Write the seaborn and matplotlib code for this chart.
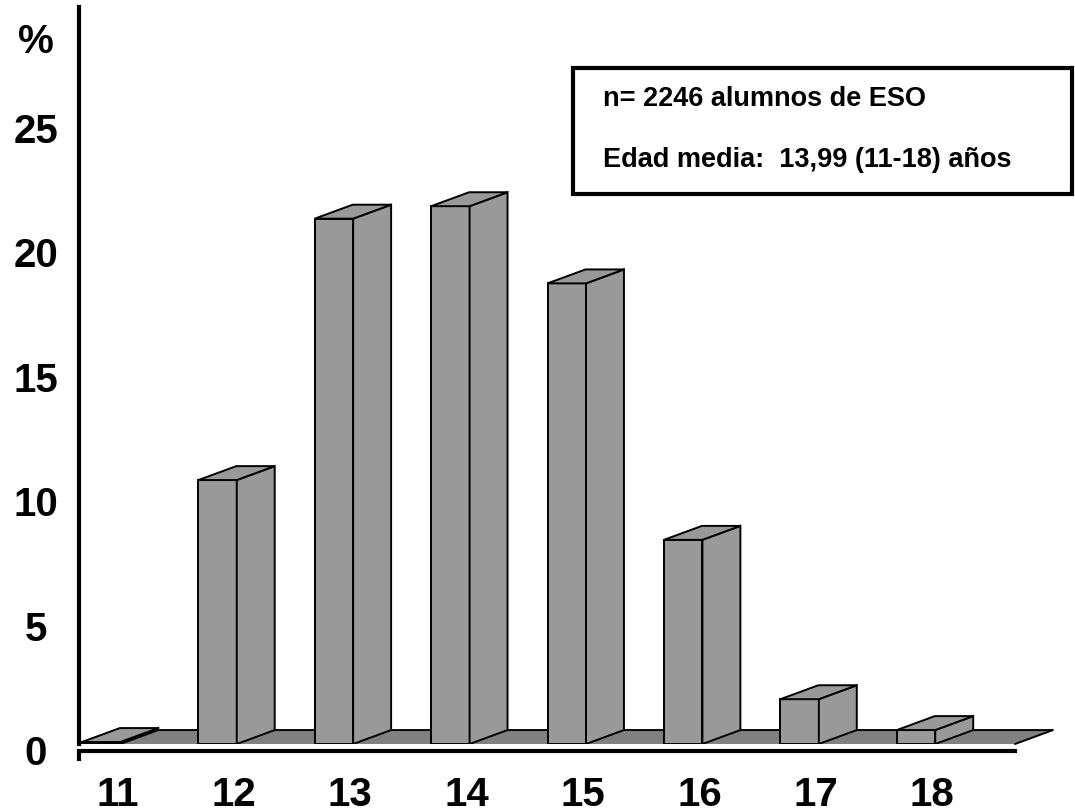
import numpy as np
import pandas as pd
import seaborn as sns
import matplotlib.pyplot as plt
from matplotlib.patches import Polygon, Rectangle
from matplotlib.transforms import ScaledTranslation

# % de alumnos por edad
edades = ['11', '12', '13', '14', '15', '16', '17', '18']
porcentaje = [0.08, 10.6, 21.1, 21.6, 18.5, 8.2, 1.8, 0.56]
yticks = [0, 5, 10, 15, 20, 25]
info = ['n= 2246 alumnos de ESO', 'Edad media:  13,99 (11-18) años']

df = pd.DataFrame({'edad': edades, 'pct': porcentaje})

sns.set_style('white')
plt.rcParams['font.family'] = ['Liberation Sans', 'DejaVu Sans']
plt.rcParams['font.weight'] = 'bold'
for k in ['text.color', 'xtick.color', 'ytick.color', 'axes.labelcolor', 'axes.edgecolor']:
    plt.rcParams[k] = 'black'

gray = '#999999'
floor_gray = '#808080'
dx, dy = 0.326, 0.56  # depth of the 3d effect (data units)
elw = 1.4

fig = plt.figure(figsize=(10.75, 8.12), dpi=100)
ax = fig.add_axes([79 / 1075, 67 / 812, 936 / 1075, 737 / 812])

sns.barplot(data=df, x='edad', y='pct', color=gray, saturation=1, width=0.33,
            edgecolor='black', linewidth=elw, ax=ax, zorder=3)

ax.set_xlim(-0.19, 7.85)
ax.set_ylim(0, 29.6)

# side and top faces of each bar
for p in list(ax.patches):
    x0, w, h = p.get_x(), p.get_width(), p.get_height()
    x1 = x0 + w
    side = Polygon([(x1, 0), (x1 + dx, dy), (x1 + dx, h + dy), (x1, h)],
                   closed=True, fc=gray, ec='black', lw=elw, zorder=3)
    top = Polygon([(x0, h), (x0 + dx, h + dy), (x1 + dx, h + dy), (x1, h)],
                  closed=True, fc=gray, ec='black', lw=elw, zorder=3)
    ax.add_patch(side)
    ax.add_patch(top)

# floor
xa, xb = ax.get_xlim()
floor = Polygon([(xa, 0), (xb, 0), (xb + dx, dy), (xa + dx, dy)], closed=True,
                fc=floor_gray, ec='none', zorder=1, clip_on=False)
ax.add_patch(floor)
ax.plot([xa + dx, xb + dx, xb], [dy, dy, 0], color='black', lw=elw,
        zorder=1.5, clip_on=False)

# axes styling
for s in ['top', 'right']:
    ax.spines[s].set_visible(False)
ax.spines['left'].set_linewidth(3)
ax.spines['bottom'].set_linewidth(3)
ax.spines['bottom'].set_position(('outward', 5))

ax.set_xticks(np.arange(len(edades)) + 0.14, edades)
ax.set_xticks([xa], minor=True)
ax.tick_params(axis='x', which='major', length=0, pad=17, labelsize=29)
ax.tick_params(axis='x', which='minor', bottom=True, length=7, width=3, color='black')
ax.set_yticks(yticks, [str(t) for t in yticks], ha='center')
ax.tick_params(axis='y', length=0, pad=31, labelsize=29)
for lbl in ax.get_yticklabels():
    lbl.set_transform(lbl.get_transform() + ScaledTranslation(0, -5 / 100, fig.dpi_scale_trans))
ax.set_xlabel('')
ax.set_ylabel('')

fig.text(36 / 1075, 1 - 42 / 812, '%', fontsize=29, fontweight='bold',
         ha='center', va='center')

# info box
fig.patches.append(Rectangle((573 / 1075, 1 - 195 / 812), 499 / 1075, 126 / 812,
                             transform=fig.transFigure, fc='white', ec='black', lw=3))
fig.text(603 / 1075, 1 - 99 / 812, info[0], fontsize=19.5, fontweight='bold', va='center')
fig.text(603 / 1075, 1 - 160 / 812, info[1], fontsize=19.5, fontweight='bold', va='center')

fig.savefig('out.png', dpi=100)
